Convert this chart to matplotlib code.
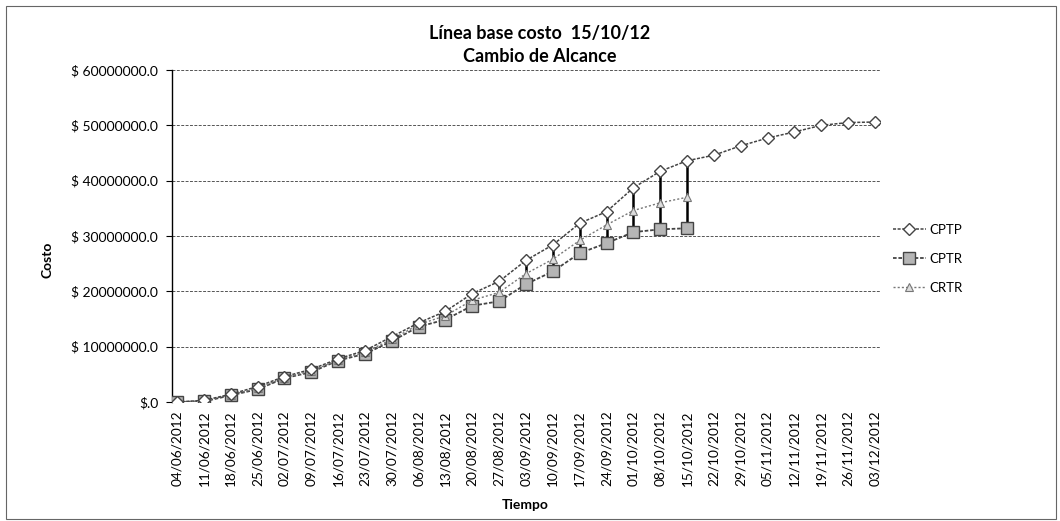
import matplotlib
matplotlib.use("Agg")
import matplotlib.pyplot as plt
from matplotlib.patches import Rectangle

plt.rcParams['font.family'] = ['Lato', 'DejaVu Sans']

# fechas (eje x)
fechas = ["04/06/2012", "11/06/2012", "18/06/2012", "25/06/2012", "02/07/2012",
          "09/07/2012", "16/07/2012", "23/07/2012", "30/07/2012", "06/08/2012",
          "13/08/2012", "20/08/2012", "27/08/2012", "03/09/2012", "10/09/2012",
          "17/09/2012", "24/09/2012", "01/10/2012", "08/10/2012", "15/10/2012",
          "22/10/2012", "29/10/2012", "05/11/2012", "12/11/2012", "19/11/2012",
          "26/11/2012", "03/12/2012"]

# valores en millones
cptp = [0.0, 0.3, 1.4, 2.8, 4.6, 5.9, 7.8, 9.3, 11.8, 14.3, 16.4, 19.6, 21.8, 25.6,
        28.4, 32.3, 34.4, 38.7, 41.7, 43.6, 44.6, 46.3, 47.7, 48.8, 50.0, 50.5, 50.6]
cptr = [0.0, 0.1, 1.2, 2.3, 4.3, 5.4, 7.5, 8.7, 11.0, 13.6, 14.9, 17.4, 18.2, 21.3,
        23.6, 26.9, 28.7, 30.7, 31.2, 31.4]
crtr = [0.0, 0.2, 1.3, 2.5, 4.4, 5.6, 7.6, 9.0, 11.3, 14.0, 15.6, 18.4, 19.8, 23.2,
        25.8, 29.2, 32.0, 34.6, 36.0, 37.0]

y_ticks = [0, 10, 20, 30, 40, 50, 60]
y_labels = ["$.0", "$ 10000000.0", "$ 20000000.0", "$ 30000000.0",
            "$ 40000000.0", "$ 50000000.0", "$ 60000000.0"]

fig = plt.figure(figsize=(10.6, 5.21), dpi=100)
ax = fig.add_axes([172 / 1060, 1 - 402 / 521, 708 / 1060, 332 / 521])

# marco del grafico
fig.patches.append(Rectangle((0.006, 0.004), 0.99, 0.985, transform=fig.transFigure,
                             fill=False, edgecolor='#666666', lw=0.8))

x = list(range(len(fechas)))

# lineas de maximo-minimo
for i in range(len(cptr)):
    vals = [cptp[i], cptr[i], crtr[i]]
    ax.vlines(i, min(vals), max(vals), color='black', lw=1.8, zorder=2)

ax.plot(x, cptp, color='#444444', lw=1.1, linestyle=(0, (2, 1)), marker='D', ms=6.5,
        mfc='white', mec='#444444', mew=1.0, label='CPTP', zorder=4)
ax.plot(x[:len(cptr)], cptr, color='#444444', lw=1.3, linestyle=(0, (2, 1)), marker='s',
        ms=8.5, mfc='#b5b5b5', mec='#444444', mew=1.0, label='CPTR', zorder=3)
ax.plot(x[:len(crtr)], crtr, color='#777777', lw=1.0, linestyle=(0, (1.5, 1.5)),
        marker='^', ms=6, mfc='#dddddd', mec='#777777', mew=0.8, label='CRTR', zorder=3)

ax.set_xlim(-0.19, len(fechas) - 1 + 0.19)
ax.set_ylim(0, 60)
ax.set_xticks(x)
ax.set_xticklabels(fechas, rotation=90, fontsize=9.8)
ax.set_yticks(y_ticks)
ax.set_yticklabels(y_labels, fontsize=10)
ax.tick_params(axis='x', length=0, pad=6)
ax.tick_params(axis='y', length=4, direction='out', pad=6)

ax.grid(axis='y', color='#555555', lw=0.7, linestyle=(0, (3, 1.5)))
ax.set_axisbelow(True)
for s in ['top', 'right', 'bottom']:
    ax.spines[s].set_visible(False)
ax.spines['left'].set_color('black')
ax.spines['left'].set_linewidth(1.0)

fig.text(540 / 1060, 1 - 33 / 521, "Línea base costo  15/10/12", ha='center', va='center',
         fontsize=13, fontweight='bold')
fig.text(540 / 1060, 1 - 57 / 521, "Cambio de Alcance", ha='center', va='center',
         fontsize=13, fontweight='bold')
fig.text(525 / 1060, 1 - 505 / 521, "Tiempo", ha='center', va='center',
         fontsize=10, fontweight='bold')
fig.text(47 / 1060, 1 - 260 / 521, "Costo", ha='center', va='center', rotation=90,
         fontsize=10, fontweight='bold')

fig.legend(loc='upper left', bbox_to_anchor=(886 / 1060, 1 - 217 / 521), frameon=False,
           fontsize=9.5, handlelength=2.5, handletextpad=0.3, labelspacing=1.3,
           borderpad=0)

fig.savefig("out.png", dpi=100)
